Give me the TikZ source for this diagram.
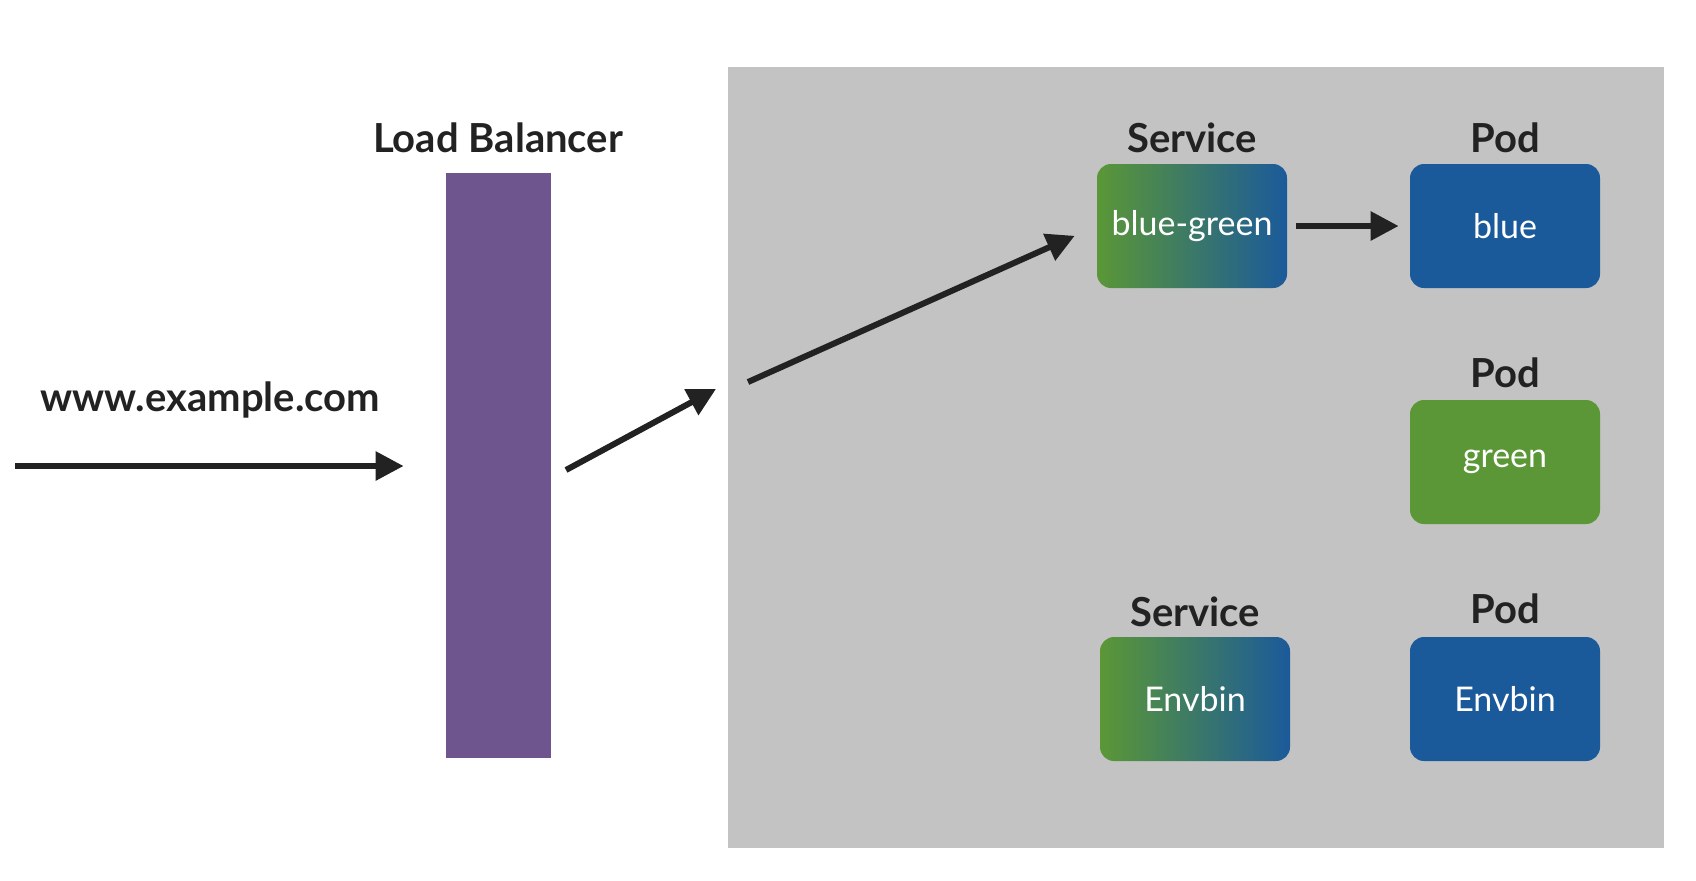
\documentclass[tikz,border=0pt]{standalone}
\usepackage{fontspec}
\setmainfont{Lato}
\usetikzlibrary{arrows.meta}

\newlength{\du}
\setlength{\du}{0.5pt}

\definecolor{inkcolor}{rgb}{0.133, 0.133, 0.133}
\definecolor{clustercolor}{rgb}{0.765, 0.765, 0.765}
\definecolor{lbcolor}{rgb}{0.431, 0.333, 0.557}
\definecolor{bluecolor}{rgb}{0.106, 0.353, 0.604}
\definecolor{greencolor}{rgb}{0.357, 0.592, 0.212}

\tikzset{
  hdr/.style={font=\bfseries\fontsize{20}{24}\selectfont, text=inkcolor},
  boxstyle/.style={rounded corners=7pt, minimum width=95pt, minimum height=62pt,
    inner sep=0pt, text=white, font=\fontsize{17}{20}\selectfont},
  podblue/.style={boxstyle, fill=bluecolor},
  podgreen/.style={boxstyle, fill=greencolor},
  svcbox/.style={boxstyle, left color=greencolor, right color=bluecolor},
  flow/.style={draw=inkcolor, line width=3pt, -{Triangle[length=14pt, width=14pt]}}
}

\begin{document}
\begin{tikzpicture}
\pgftransformxscale{1.000000}
\pgftransformyscale{-1.000000}
\useasboundingbox (0\du,0\du) rectangle (1696\du,880\du);
% cluster
\fill[clustercolor] (728\du,67\du) rectangle (1664\du,848\du);
% load balancer
\node[fill=lbcolor, minimum width=52.5pt, minimum height=292.5pt, inner sep=0pt] (lb) at (498.5\du,465.5\du) {};
\node[hdr] (lblabel) at (498\du,138\du) {Load Balancer};
% client
\node[hdr] (url) at (210\du,400\du) {www.example.com};
\coordinate (client) at (15\du,466\du);
\coordinate (lbout) at (566\du,470\du);
\coordinate (gate) at (716\du,389\du);
\coordinate (gatein) at (748\du,382\du);
% services
\node[hdr] (svctop) at (1192\du,138\du) {Service};
\node[svcbox] (svcbg) at (1192\du,226\du) {blue-green};
\node[hdr] (svcbot) at (1195\du,612\du) {Service};
\node[svcbox] (svcenv) at (1195\du,699\du) {Envbin};
% pods
\node[hdr] (podtop) at (1505\du,138\du) {Pod};
\node[podblue] (blue) at (1505\du,226\du) {blue};
\node[hdr] (podmid) at (1505\du,373\du) {Pod};
\node[podgreen] (green) at (1505\du,462\du) {green};
\node[hdr] (podbot) at (1505\du,609\du) {Pod};
\node[podblue] (podenv) at (1505\du,699\du) {Envbin};
% arrows
\draw[flow, shorten >=21pt] (client) -- (lb.west |- client);
\draw[flow] (lbout) -- (gate);
\draw[flow, shorten >=12pt] (gatein) -- (svcbg.west);
\draw[flow, shorten <=4.5pt, shorten >=5.5pt] (svcbg.east) -- (blue.west);
\end{tikzpicture}
\end{document}
